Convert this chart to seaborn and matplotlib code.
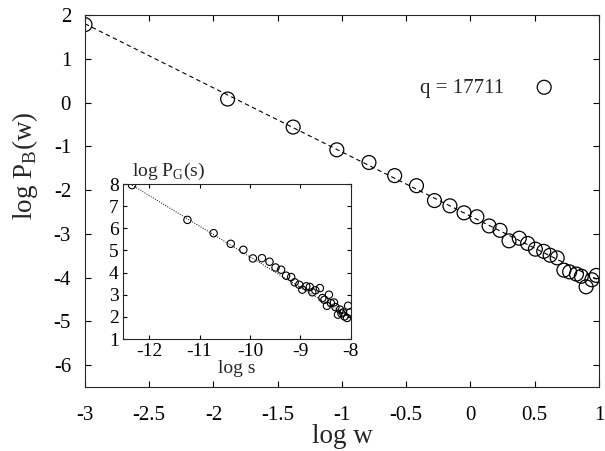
import numpy as np
import pandas as pd
import seaborn as sns
import matplotlib
matplotlib.use("Agg")
import matplotlib.pyplot as plt

# --- main panel: log P_B(w) vs log w ---
log_w = [-3.0, -1.89, -1.38, -1.04, -0.79, -0.59, -0.42, -0.28, -0.16, -0.05,
         0.05, 0.145, 0.23, 0.30, 0.38, 0.445, 0.505, 0.57, 0.62, 0.675,
         0.727, 0.772, 0.825, 0.863, 0.90, 0.945, 0.98]
log_pb = [1.78, 0.08, -0.56, -1.08, -1.37, -1.67, -1.90, -2.24, -2.36, -2.52,
          -2.61, -2.82, -2.92, -3.16, -3.10, -3.22, -3.35, -3.40, -3.49, -3.55,
          -3.83, -3.87, -3.92, -3.97, -4.21, -4.05, -3.95]
fit_w = [-3.0, 1.0]
fit_pb = [1.80, -4.06]

# --- inset: log P_G(s) vs log s ---
log_s = [-12.34, -11.24, -10.72, -10.38, -10.13, -9.94, -9.76, -9.61, -9.49, -9.38,
         -9.28, -9.18, -9.11, -9.02, -8.96, -8.88, -8.81, -8.76, -8.70, -8.61,
         -8.56, -8.52, -8.47, -8.43, -8.39, -8.33, -8.30, -8.25, -8.21, -8.18,
         -8.15, -8.12, -8.07, -8.05, -8.01]
log_pg = [7.95, 6.38, 5.78, 5.30, 5.03, 4.64, 4.65, 4.49, 4.23, 4.13,
          3.86, 3.80, 3.56, 3.45, 3.23, 3.38, 3.35, 3.11, 3.20, 3.30,
          2.85, 2.77, 2.50, 3.00, 2.62, 2.65, 2.44, 2.10, 2.33, 2.15,
          2.20, 2.02, 1.95, 2.50, 2.20]
fit_s = [-12.34, -8.0]
fit_pg = [7.95, 1.95]

sns.set_style("ticks")
plt.rcParams['font.family'] = ['Liberation Serif', 'DejaVu Serif']
plt.rcParams['mathtext.fontset'] = 'custom'
plt.rcParams['mathtext.rm'] = 'Liberation Serif'
plt.rcParams['axes.linewidth'] = 0.8

main = pd.DataFrame({'w': log_w, 'pb': log_pb})
inset = pd.DataFrame({'s': log_s, 'pg': log_pg})

fig = plt.figure(figsize=(6.05, 4.51), dpi=100)
ax = fig.add_axes([0.1405, 0.1419, 0.8495, 0.8248])

sns.lineplot(x=fit_w, y=fit_pb, ax=ax, color='black', lw=0.8,
             dashes=False, linestyle=(0, (4, 3)))
sns.scatterplot(data=main, x='w', y='pb', ax=ax, marker='o', s=100,
                facecolors='none', edgecolor='black', linewidth=0.9,
                label='q = 17711')

ax.set_xlim(-3, 1)
ax.set_ylim(-6.5, 2)
ax.set_xticks(np.arange(-3, 1.01, 0.5))
ax.set_xticklabels(['-3', '-2.5', '-2', '-1.5', '-1', '-0.5', '0', '0.5', '1'])
ax.set_yticks(range(-6, 3))
ax.set_yticklabels([str(v) for v in range(-6, 3)])
ax.tick_params(direction='in', top=True, right=True, length=4, width=0.8,
               labelsize=15, pad=10, colors='black')
ax.tick_params(axis='x', pad=14)
ax.set_xlabel('log w', fontsize=19.5, labelpad=-1)
ax.set_ylabel('')
fig.text(0.042, 1 - 166 / 451, r'log P$_\mathregular{B}$(w)', fontsize=19.5,
         rotation=90, ha='center', va='center')

leg = ax.legend(loc='center right', bbox_to_anchor=(0.934, 0.804), frameon=False,
                markerfirst=False, fontsize=15, handletextpad=0.9,
                borderaxespad=0, borderpad=0)

# inset
ax2 = fig.add_axes([0.2033, 0.2483, 0.377, 0.3437])
sns.lineplot(x=fit_s, y=fit_pg, ax=ax2, color='black', lw=0.7,
             dashes=False, linestyle=(0, (1, 1.5)))
sns.scatterplot(data=inset, x='s', y='pg', ax=ax2, marker='o', s=28,
                facecolors='none', edgecolor='black', linewidth=0.8)
ax2.set_xlim(-12.52, -7.99)
ax2.set_ylim(1, 8)
ax2.set_xticks([-12, -11, -10, -9, -8])
ax2.set_xticklabels(['-12', '-11', '-10', '-9', '-8'])
ax2.set_yticks(range(1, 9))
ax2.set_yticklabels([str(v) for v in range(1, 9)])
ax2.tick_params(direction='in', top=True, right=True, length=3, width=0.8,
                labelsize=14, pad=3, colors='black')
ax2.set_xlabel('log s', fontsize=14, labelpad=0)
ax2.set_ylabel('')
ax2.text(0.04, 1.015, r'log P$_\mathregular{G}$(s)', transform=ax2.transAxes,
         fontsize=14, ha='left', va='bottom')

fig.savefig('out.png', dpi=100)
